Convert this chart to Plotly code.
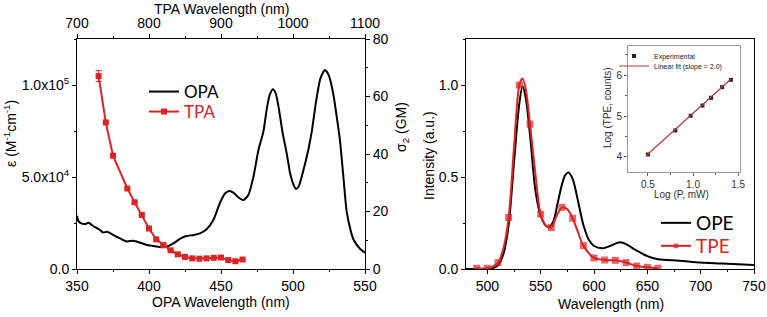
import plotly.graph_objects as go

# ---------------- data ----------------
# Left panel: one-photon absorption (epsilon) vs OPA wavelength
opa_wl = [350, 351, 353, 356, 358, 361, 366, 368, 371, 375, 380, 384.5, 389, 394, 398, 403, 407.6,
          412, 417, 421.5, 426, 431, 435.4, 440, 444.7, 449.3, 452.8, 455.8, 458.6, 462, 465.5, 469,
          472.5, 476, 479.4, 482, 484, 486, 488, 490, 492.8, 495.6, 498, 500, 502, 504, 507, 510.6,
          513, 516, 519, 522.2, 525, 528, 530.5, 532.6, 535, 537.3, 540, 542, 546.5, 550]
opa_eps = [29000, 26000, 24800, 24500, 25200, 23500, 21200, 19900, 20200, 18600, 16600, 15000, 15400,
           14300, 13200, 12500, 11900, 12100, 13900, 16400, 17900, 18500, 19400, 21600, 26600, 36000,
           41000, 42400, 41500, 39000, 37500, 40200, 50000, 64700, 74500, 88000, 95000, 97700, 95500,
           88000, 74000, 63000, 52000, 46500, 43500, 45000, 53000, 64700, 74500, 91000, 103500, 108200,
           105000, 95000, 82000, 70000, 50000, 31000, 21000, 16000, 11000, 8800]

# Left panel: two-photon absorption cross-section vs TPA wavelength
tpa_wl = [730, 740, 750, 770, 780, 790, 800, 810, 820, 830, 840, 850, 860, 870, 880, 890, 900, 910, 920, 930]
tpa_sigma = [67.1, 51.0, 39.4, 28.0, 23.2, 18.8, 14.1, 10.3, 8.3, 6.5, 5.1, 4.2, 3.7, 3.6, 3.7, 3.9, 4.0, 3.1, 2.7, 3.3]
tpa_err = [1.9, 0, 0, 0, 0, 0, 0, 0, 0, 0, 0, 0, 0, 0, 0, 0, 0, 0, 0, 0]

# Right panel: emission spectra
ope_wl = [480, 500, 505, 510, 515, 520, 525, 530, 533, 536, 540, 545, 550, 555, 558, 562, 566, 570, 573,
          576, 580, 585, 590, 595, 600, 608, 615, 620, 625, 630, 640, 650, 660, 680, 700, 720, 750]
ope_int = [0, 0, 0.004, 0.02, 0.08, 0.24, 0.58, 0.9, 0.993, 0.93, 0.73, 0.43, 0.29, 0.235, 0.23, 0.26,
           0.36, 0.46, 0.51, 0.525, 0.49, 0.37, 0.24, 0.16, 0.125, 0.113, 0.125, 0.138, 0.145, 0.135,
           0.1, 0.07, 0.053, 0.045, 0.035, 0.03, 0.022]

# TPE measured curve (markers every 10 nm, plus a few curve points between them)
tpe_wl = [490, 500, 510, 515, 520, 525, 530, 533, 536, 540, 545, 550, 555, 560, 565, 570, 575, 580,
          585, 590, 600, 610, 620, 630, 640, 650, 660]
tpe_int = [0.004, 0.004, 0.035, 0.11, 0.28, 0.66, 1.0, 1.035, 0.98, 0.787, 0.52, 0.298, 0.235, 0.225,
           0.29, 0.335, 0.325, 0.276, 0.2, 0.127, 0.06, 0.049, 0.047, 0.035, 0.016, 0.009, 0.004]
tpe_has_marker = [1, 1, 1, 0, 1, 0, 1, 0, 0, 1, 0, 1, 0, 1, 0, 1, 0, 1, 0, 1, 1, 1, 1, 1, 1, 1, 1]

# Inset: log-log power dependence
inset_logp = [0.50, 0.804, 0.974, 1.104, 1.20, 1.322, 1.419]
inset_logtpe = [4.06, 4.65, 5.01, 5.26, 5.45, 5.71, 5.89]
fit_logp = [0.48, 1.42]
fit_logtpe = [4.03, 5.91]

# tick labels
eps_tickvals = [0, 50000, 100000]
eps_ticktext = ["0.0", "5.0x10<sup>4</sup>", "1.0x10<sup>5</sup>"]

RED = "#dc2424"
FONT = "Liberation Sans"
LFONT = "Lato"
W, H = 767, 317

def px_x(p):
    return p / W

def px_y(p):
    return 1 - p / H

fig = go.Figure()

fig.add_trace(go.Scatter(x=opa_wl, y=opa_eps, mode="lines", name="OPA",
                         line=dict(color="black", width=2, shape="spline", smoothing=0.6),
                         xaxis="x", yaxis="y", legend="legend"))
fig.add_trace(go.Scatter(x=tpa_wl, y=tpa_sigma, mode="lines+markers",
                         name='<span style="color:%s">TPA</span>' % RED,
                         line=dict(color=RED, width=2),
                         marker=dict(symbol="square", size=6, color=RED),
                         error_y=dict(type="data", array=tpa_err, color=RED, width=3, thickness=1),
                         xaxis="x2", yaxis="y2", legend="legend2"))

fig.add_trace(go.Scatter(x=ope_wl, y=ope_int, mode="lines", name="OPE",
                         line=dict(color="black", width=2, shape="spline", smoothing=0.8),
                         xaxis="x3", yaxis="y3", legend="legend3"))
fig.add_trace(go.Scatter(x=tpe_wl, y=tpe_int, mode="lines+markers",
                         name='<span style="color:%s">TPE</span>' % RED,
                         line=dict(color=RED, width=2, shape="spline", smoothing=0.8),
                         marker=dict(symbol="square", size=[7 * m for m in tpe_has_marker], color=RED,
                                     line=dict(width=0)),
                         xaxis="x3", yaxis="y3", legend="legend4"))

fig.add_trace(go.Scatter(x=inset_logp, y=inset_logtpe, mode="markers", name="Experimental",
                         marker=dict(symbol="square", size=4, color="#222222"),
                         xaxis="x4", yaxis="y4", legend="legend5"))
fig.add_trace(go.Scatter(x=fit_logp, y=fit_logtpe, mode="lines", name="Linear fit (slope = 2.0)",
                         line=dict(color="#b23a3a", width=1.2),
                         xaxis="x4", yaxis="y4", legend="legend6"))

tick_font = dict(family=FONT, size=14, color="black")
small_font = dict(family=FONT, size=10, color="#333333")

main_ax = dict(showgrid=False, zeroline=False, showline=True, linecolor="black", linewidth=1,
               ticks="outside", ticklen=4, tickcolor="black", tickwidth=1, tickfont=tick_font)

left_dom_x = [px_x(77), px_x(365)]
main_dom_y = [px_y(269), px_y(39)]
right_dom_x = [px_x(466), px_x(754)]
inset_dom_x = [px_x(628), px_x(740)]
inset_dom_y = [px_y(172), px_y(46)]

legend_common = dict(bgcolor="rgba(0,0,0,0)", borderwidth=0, xanchor="left", yanchor="middle",
                     itemwidth=30, tracegroupgap=0)

fig.update_layout(
    width=W, height=H, margin=dict(l=0, r=0, t=0, b=0, autoexpand=False),
    paper_bgcolor="white", plot_bgcolor="white",
    font=dict(family=FONT, size=14, color="black"),
    xaxis=dict(main_ax, domain=left_dom_x, anchor="y", range=[350, 550],
               tickvals=[350, 400, 450, 500, 550],
               minor=dict(ticks="outside", ticklen=2, tickcolor="black", dtick=25, tick0=350)),
    xaxis2=dict(main_ax, overlaying="x", side="top", anchor="y", range=[700, 1100],
                tickvals=[700, 800, 900, 1000, 1100],
                minor=dict(ticks="outside", ticklen=2, tickcolor="black", dtick=50, tick0=700)),
    yaxis=dict(main_ax, domain=main_dom_y, anchor="x", range=[0, 125000],
               tickvals=eps_tickvals, ticktext=eps_ticktext,
               minor=dict(ticks="outside", ticklen=2, tickcolor="black", dtick=25000, tick0=0)),
    yaxis2=dict(main_ax, overlaying="y", side="right", anchor="x", range=[0, 80],
                tickvals=[0, 20, 40, 60, 80],
                minor=dict(ticks="outside", ticklen=2, tickcolor="black", dtick=10, tick0=0)),
    xaxis3=dict(main_ax, domain=right_dom_x, anchor="y3", range=[480, 750], mirror=True,
                tickvals=[500, 550, 600, 650, 700, 750],
                minor=dict(ticks="outside", ticklen=2, tickcolor="black", dtick=25, tick0=500)),
    yaxis3=dict(main_ax, domain=main_dom_y, anchor="x3", range=[0, 1.25], mirror=True,
                tickvals=[0, 0.5, 1.0], ticktext=["0.0", "0.5", "1.0"],
                minor=dict(ticks="outside", ticklen=2, tickcolor="black", dtick=0.25, tick0=0)),
    xaxis4=dict(showgrid=False, zeroline=False, showline=True, linecolor="#9a9a9a", linewidth=1,
                mirror=True, ticks="outside", ticklen=3, tickcolor="#666666", tickfont=small_font,
                domain=inset_dom_x, anchor="y4", range=[0.28, 1.52],
                tickvals=[0.5, 1.0, 1.5], ticktext=["0.5", "1.0", "1.5"],
                minor=dict(ticks="outside", ticklen=2, tickcolor="#666666", dtick=0.25, tick0=0.5)),
    yaxis4=dict(showgrid=False, zeroline=False, showline=True, linecolor="#9a9a9a", linewidth=1,
                mirror=True, ticks="outside", ticklen=3, tickcolor="#666666", tickfont=small_font,
                domain=inset_dom_y, anchor="x4", range=[3.63, 6.72],
                tickvals=[4, 5, 6],
                minor=dict(ticks="outside", ticklen=2, tickcolor="#666666", dtick=0.5, tick0=4)),
    legend=dict(legend_common, x=px_x(144), y=px_y(92), font=dict(family=LFONT, size=17, color="black")),
    legend2=dict(legend_common, x=px_x(144), y=px_y(112), font=dict(family=LFONT, size=17, color=RED)),
    legend3=dict(legend_common, x=px_x(656), y=px_y(223), font=dict(family=LFONT, size=19, color="black")),
    legend4=dict(legend_common, x=px_x(656), y=px_y(246), font=dict(family=LFONT, size=19, color=RED)),
    legend5=dict(legend_common, x=px_x(614), y=px_y(56), font=dict(family=FONT, size=7, color="#222222")),
    legend6=dict(legend_common, x=px_x(614), y=px_y(66), font=dict(family=FONT, size=7, color="#222222")),
    showlegend=True,
)

annotations = [
    dict(text="OPA Wavelength (nm)", x=px_x(221), y=px_y(302), font=dict(family=FONT, size=14)),
    dict(text="TPA Wavelength (nm)", x=px_x(221), y=px_y(9), font=dict(family=FONT, size=14)),
    dict(text="ε (M<sup>-1</sup>cm<sup>-1</sup>)", x=px_x(10), y=px_y(134), textangle=-90,
         font=dict(family=FONT, size=14)),
    dict(text="σ<sub>2</sub> (GM)", x=px_x(402), y=px_y(127), textangle=-90, font=dict(family=FONT, size=14)),
    dict(text="Intensity (a.u.)", x=px_x(429), y=px_y(155), textangle=-90, font=dict(family=FONT, size=14)),
    dict(text="Wavelength (nm)", x=px_x(611), y=px_y(304), font=dict(family=FONT, size=14)),
    dict(text="Log (P, mW)", x=px_x(681), y=px_y(194), font=dict(family=FONT, size=10, color="#333333")),
    dict(text="Log (TPE, counts)", x=px_x(607), y=px_y(108), textangle=-90,
         font=dict(family=FONT, size=10, color="#333333")),
]
for a in annotations:
    a.update(xref="paper", yref="paper", showarrow=False, xanchor="center", yanchor="middle")
fig.update_layout(annotations=annotations)

fig.write_html("out.html", config={"displayModeBar": False},
               post_script="document.body.style.margin='0';document.body.style.padding='0';")
